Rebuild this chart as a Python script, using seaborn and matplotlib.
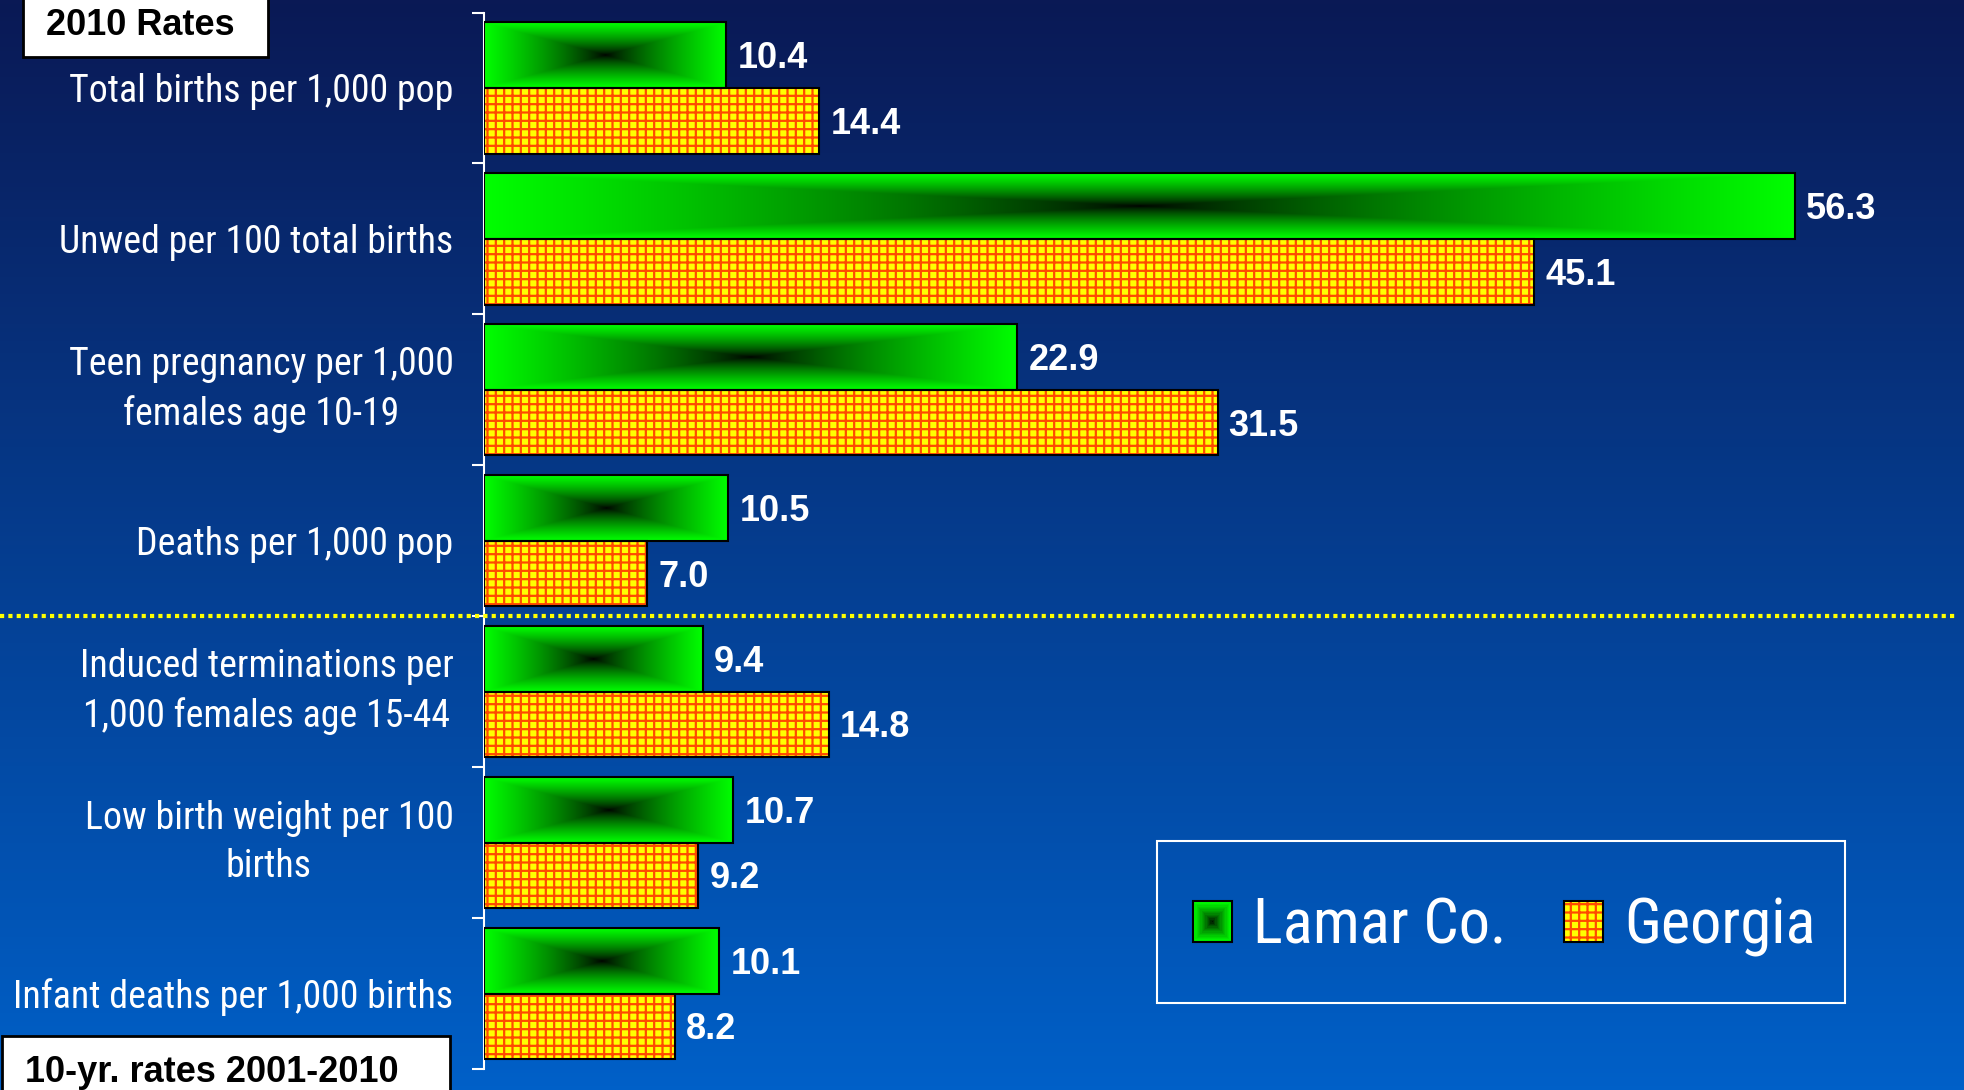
import numpy as np
import pandas as pd
import matplotlib
matplotlib.use('Agg')
import matplotlib.pyplot as plt
import seaborn as sns
from matplotlib.patches import Rectangle, Patch
from matplotlib.legend_handler import HandlerBase
from matplotlib import font_manager

# --- data ---
measures = [
    'Total births per 1,000 pop',
    'Unwed per 100 total births',
    'Teen pregnancy per 1,000\nfemales age 10-19',
    'Deaths per 1,000 pop',
    'Induced terminations per\n1,000 females age 15-44',
    'Low birth weight per 100\nbirths',
    'Infant deaths per 1,000 births',
]
lamar = [10.4, 56.3, 22.9, 10.5, 9.4, 10.7, 10.1]
georgia = [14.4, 45.1, 31.5, 7.0, 14.8, 9.2, 8.2]
areas = ['Lamar Co.', 'Georgia']

df = pd.DataFrame({
    'measure': measures * 2,
    'rate': lamar + georgia,
    'area': [areas[0]] * len(lamar) + [areas[1]] * len(georgia),
})

installed = {f.name for f in font_manager.fontManager.ttflist}
narrow = 'DejaVu Sans'
for cand in ['Liberation Sans Narrow', 'Roboto Condensed', 'PT Sans Narrow', 'Archivo Narrow']:
    if cand in installed:
        narrow = cand
        break
bold_font = 'Liberation Sans' if 'Liberation Sans' in installed else 'DejaVu Sans'

plt.rcParams['hatch.linewidth'] = 1.6

GREEN_GAMMA = 0.75

fig = plt.figure(figsize=(19.65, 10.9), dpi=100)

# background gradient, dark navy to blue
bg = fig.add_axes([0, 0, 1, 1], zorder=-10)
top = np.array([10, 25, 85]) / 255
bot = np.array([0, 96, 200]) / 255
t = np.linspace(0, 1, 256)[:, None]
grad = top + (bot - top) * t
bg.imshow(grad[:, None, :], aspect='auto', extent=(0, 1, 1, 0))
bg.axis('off')

ax = fig.add_axes([0.2463, 0.0193, 0.7537, 0.9692])
ax.set_facecolor('none')

sns.barplot(data=df, y='measure', x='rate', hue='area', hue_order=areas,
            orient='h', width=0.87, palette={areas[0]: '#00ff00', areas[1]: '#ffff00'},
            edgecolor='black', linewidth=1.5, legend=False, ax=ax)

lamar_bars, georgia_bars = ax.containers[0], ax.containers[1]

# green bars: rectangular gradient, black in the middle
u = np.abs(np.linspace(-1, 1, 401))
v = np.abs(np.linspace(-1, 1, 61))
tt = np.maximum(u[None, :], v[:, None])
green_img = np.zeros((61, 401, 3))
green_img[..., 1] = tt ** GREEN_GAMMA
for bar in lamar_bars:
    x0, y0, w, h = bar.get_x(), bar.get_y(), bar.get_width(), bar.get_height()
    im = ax.imshow(green_img, extent=(x0, x0 + w, y0 + h, y0), aspect='auto',
                   interpolation='bilinear', zorder=2)
    im.set_clip_path(bar)
    bar.set_facecolor('none')
    bar.set_zorder(3)

# georgia bars: yellow with orange grid
for bar in georgia_bars:
    x0, y0, w, h = bar.get_x(), bar.get_y(), bar.get_width(), bar.get_height()
    ax.add_patch(Rectangle((x0, y0), w, h, facecolor='#ffff00', edgecolor='#ff4a00',
                           lw=0, hatch='++', zorder=2))
    bar.set_facecolor('none')
    bar.set_zorder(3)

for cont in ax.containers:
    anns = ax.bar_label(cont, fmt='%.1f', padding=8, color='white', fontsize=26,
                        fontweight='bold', fontfamily=bold_font)
    for a in anns:
        a.xyann = (8, -2.5)

ax.set_xlim(0, 63.6)
ax.set_ylim(6.5, -0.5)
ax.set_xlabel('')
ax.set_ylabel('')
ax.set_xticks([])

ax.set_yticks(np.arange(-0.5, 7, 1), labels=[''] * 8)
ax.set_yticks(range(len(measures)), labels=measures, minor=True)
ax.tick_params(axis='y', which='major', length=9, width=1.5, color='white', direction='out')
ax.tick_params(axis='y', which='minor', length=0, pad=22, labelsize=27.3, labelcolor='white')
for lab in ax.get_yticklabels(minor=True):
    lab.set_family(narrow)
    lab.set_multialignment('center')
    lab.set_linespacing(1.4)
    if '\n' in lab.get_text():
        lab.set_va('center')

for side in ['top', 'right', 'bottom']:
    ax.spines[side].set_visible(False)
ax.spines['left'].set_color('white')
ax.spines['left'].set_linewidth(1.5)

# dotted divider between 2010 rates and 10-yr rates
ax.axhline(3.5, xmin=-0.327, xmax=0.995, color='#ffff00', lw=3,
           linestyle=(0, (1, 1)), clip_on=False, zorder=4)


class GreenBox(HandlerBase):
    def create_artists(self, legend, orig_handle, xdescent, ydescent,
                       width, height, fontsize, trans):
        arts = []
        cx, cy = width / 2 - xdescent, height / 2 - ydescent
        for s in np.linspace(1, 0.03, 16):
            arts.append(Rectangle((cx - s * width / 2, cy - s * height / 2), s * width, s * height,
                                  facecolor=(0, s ** GREEN_GAMMA, 0), edgecolor='none', transform=trans))
        arts.append(Rectangle((-xdescent, -ydescent), width, height, facecolor='none',
                              edgecolor='black', lw=1.5, transform=trans))
        return arts


class GridBox(HandlerBase):
    def create_artists(self, legend, orig_handle, xdescent, ydescent,
                       width, height, fontsize, trans):
        fill = Rectangle((-xdescent, -ydescent), width, height, facecolor='#ffff00',
                         edgecolor='#ff4a00', lw=0, hatch='++', transform=trans)
        edge = Rectangle((-xdescent, -ydescent), width, height, facecolor='none',
                         edgecolor='black', lw=1.5, transform=trans)
        return [fill, edge]


h_lamar, h_georgia = Patch(), Patch()
leg = fig.legend([h_lamar, h_georgia], areas, handler_map={h_lamar: GreenBox(), h_georgia: GridBox()},
                 loc='center', bbox_to_anchor=(0.7655, 0.1496), borderaxespad=0,
                 ncol=2, prop={'family': narrow, 'size': 45}, labelcolor='white',
                 handlelength=0.62, handleheight=0.62, handletextpad=0.34, columnspacing=0.92,
                 borderpad=0.3, frameon=False)

# legend frame, sized as on the slide
fig.add_artist(Rectangle((1157 / 1965, 1 - 1003 / 1090), 688 / 1965, 162 / 1090,
                         transform=fig.transFigure, facecolor='none', edgecolor='white', lw=1.5))

# section boxes
fig.add_artist(Rectangle((0.0117, 0.9477), 0.1247, 0.07, transform=fig.transFigure,
                         facecolor='white', edgecolor='black', lw=2, zorder=5))
fig.text(0.0234, 0.9679, '2010 Rates', fontsize=26, fontweight='bold', family=bold_font,
         color='black', ha='left', va='baseline', zorder=6)
fig.add_artist(Rectangle((0.001, -0.02), 0.228, 0.0695, transform=fig.transFigure,
                         facecolor='white', edgecolor='black', lw=2, zorder=5))
fig.text(0.0127, 0.0073, '10-yr. rates 2001-2010', fontsize=26, fontweight='bold', family=bold_font,
         color='black', ha='left', va='baseline', zorder=6)

fig.savefig('out.png', dpi=100)
